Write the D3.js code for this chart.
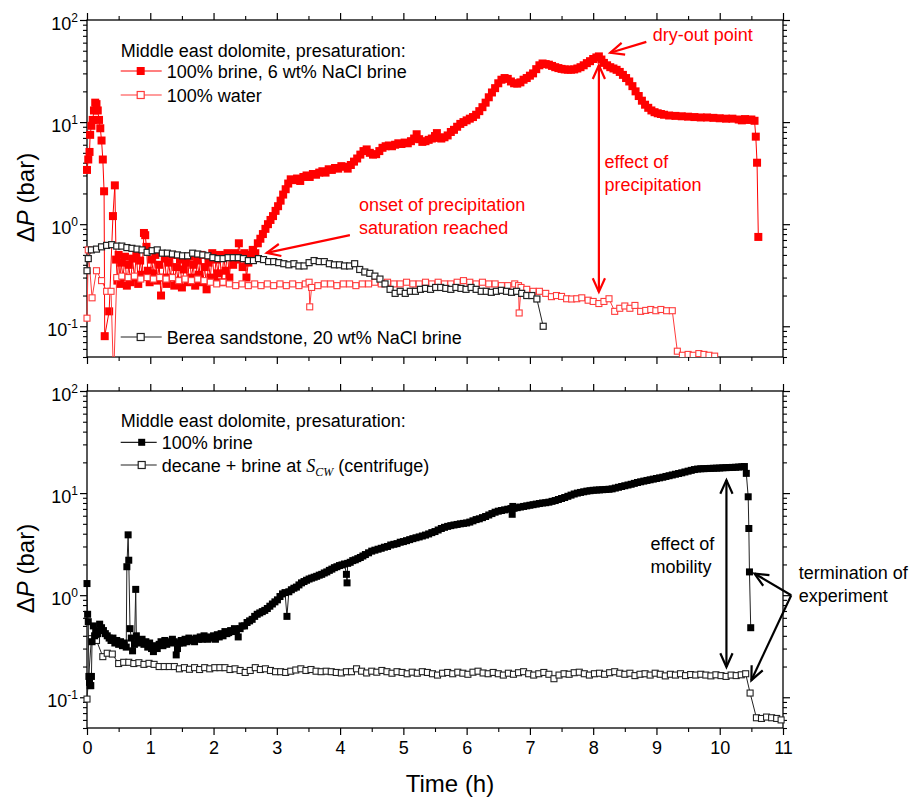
<!DOCTYPE html>
<html>
<head>
<meta charset="utf-8">
<script src="https://cdn.jsdelivr.net/npm/d3@7"></script>
<style>
  body { margin: 0; background: #fff; }
  text { font-family: "Liberation Sans", Arial, sans-serif; }
</style>
</head>
<body>
<div id="chart"></div>
<script>
// ---- data: [time (h), dP (bar)] ----
const xMajor = [0, 1, 2, 3, 4, 5, 6, 7, 8, 9, 10, 11];
const xMinor = [0.5, 1.5, 2.5, 3.5, 4.5, 5.5, 6.5, 7.5, 8.5, 9.5, 10.5];
const yMajor = [0.1, 1, 10, 100];
const yExp = ["-1", "0", "1", "2"];

// top panel: Middle east dolomite, 100% brine, 6 wt% NaCl brine
const brine6 = [[0.00,3.4],[0.02,4.3],[0.04,5.1],[0.05,7.5],[0.07,9.2],[0.09,10.5],[0.11,13],[0.13,15.5],[0.15,15],[0.17,13],[0.19,10.5],[0.21,8.7],[0.23,6.6],[0.25,4.3],[0.27,2.1],[0.28,0.08],[0.35,0.14],[0.41,1.2],[0.44,2.4],
  [0.46,0.45],[0.48,0.28],[0.50,0.5],[0.52,0.26],[0.54,0.42],[0.57,0.3],[0.60,0.48],[0.63,0.25],[0.66,0.4],[0.69,0.27],[0.72,0.46],[0.75,0.3],[0.78,0.52],[0.81,0.26],[0.84,0.44],[0.87,0.32],[0.90,0.82],[0.92,0.78],[0.94,0.6],[0.96,0.35],[0.99,0.27],
  [1.02,0.45],[1.05,0.33],[1.08,0.5],[1.11,0.28],[1.14,0.4],[1.17,0.2],[1.20,0.3],[1.23,0.46],[1.26,0.26],[1.29,0.42],[1.32,0.3],[1.35,0.5],[1.38,0.25],[1.41,0.38],[1.44,0.28],[1.47,0.45],[1.50,0.24],[1.53,0.36],[1.56,0.42],[1.59,0.27],
  [1.62,0.48],[1.65,0.3],[1.68,0.4],[1.71,0.25],[1.74,0.44],[1.77,0.32],[1.80,0.5],[1.83,0.27],[1.86,0.38],[1.89,0.23],[1.92,0.42],[1.95,0.3],[1.98,0.52],[2.01,0.28],[2.04,0.45],[2.07,0.33],[2.10,0.5],[2.13,0.27],[2.16,0.48],[2.19,0.35],
  [2.22,0.52],[2.25,0.3],[2.28,0.5],[2.31,0.4],[2.34,0.52],[2.37,0.45],[2.40,0.65],[2.43,0.5],[2.46,0.38],[2.49,0.52],[2.52,0.3],[2.55,0.42],
  [2.58,0.5],[2.62,0.56],[2.66,0.52],[2.70,0.65],[2.74,0.72],[2.78,0.8],[2.82,0.9],[2.86,1.0],[2.90,1.1],[2.94,1.2],[2.98,1.35],[3.02,1.5],[3.06,1.7],[3.10,1.95],[3.14,2.2],[3.18,2.5],[3.22,2.75],[3.27,2.7],[3.32,2.8],[3.37,2.65],
  [3.42,2.9],[3.47,3.0],[3.52,2.9],[3.57,3.1],[3.62,3.05],[3.67,3.2],[3.72,3.3],[3.77,3.2],[3.82,3.45],[3.87,3.4],[3.92,3.55],[3.97,3.5],[4.02,3.7],[4.07,3.65],[4.12,3.5],[4.17,3.8],[4.22,4.1],[4.27,4.4],[4.32,4.8],[4.37,5.2],
  [4.42,5.4],[4.47,5.0],[4.52,4.8],[4.57,4.85],[4.62,5.2],[4.67,5.6],[4.72,5.8],[4.77,5.9],[4.82,5.8],[4.87,6.0],[4.92,6.2],[4.97,6.1],[5.02,6.3],[5.07,6.2],[5.12,6.5],[5.17,6.9],[5.21,7.6],[5.25,6.8],[5.30,6.4],[5.35,6.5],
  [5.40,6.7],[5.45,6.9],[5.50,7.3],[5.53,7.8],[5.56,7.0],[5.60,6.9],[5.65,7.1],[5.70,7.4],[5.75,8.0],[5.80,8.4],[5.85,9.0],[5.90,9.6],[5.95,10.0],[6.00,10.4],[6.05,10.8],[6.10,11.2],[6.15,11.8],[6.20,12.8],[6.25,14],[6.30,15.5],
  [6.35,17.5],[6.40,19.5],[6.45,21.5],[6.50,24],[6.55,26],[6.60,27],[6.65,26.5],[6.70,25],[6.75,24],[6.80,23.8],[6.85,24.5],[6.90,26],[6.95,27],[7.00,28.5],[7.05,30],[7.10,33],[7.15,36],[7.20,37.5],[7.25,37],[7.30,36.5],
  [7.35,35.5],[7.40,34.5],[7.45,33.8],[7.50,33.2],[7.55,32.8],[7.60,32.6],[7.65,32.6],[7.70,32.8],[7.75,33.5],[7.80,34.5],[7.85,36],[7.90,37.8],[7.95,39.5],[8.00,41.5],[8.05,43],[8.09,44],[8.13,41],[8.17,38],[8.22,36],[8.27,34.5],
  [8.32,33.5],[8.37,32.5],[8.42,31],[8.47,29],[8.52,27],[8.57,25],[8.62,22.5],[8.67,20],[8.72,18],[8.77,16.2],[8.82,14.8],[8.87,13.8],[8.92,13.0],[8.97,12.5],[9.02,12.2],[9.07,12.0],[9.12,11.8],[9.20,11.6],[9.30,11.5],[9.40,11.4],
  [9.50,11.3],[9.60,11.2],[9.70,11.1],[9.80,11.1],[9.90,11.0],[10.00,10.9],[10.10,10.8],[10.20,10.8],[10.30,10.6],[10.35,10.4],[10.40,10.7],[10.45,10.5],[10.50,10.6],[10.55,10.3],[10.57,7.2],[10.59,4.0],[10.61,0.75]];

// top panel: Middle east dolomite, 100% water
const water = [[0.00,0.12],[0.02,0.56],[0.08,0.19],[0.15,0.35],[0.23,0.28],[0.31,0.22],[0.38,0.22],[0.42,0.03],[0.47,0.3],[0.55,0.31],[0.65,0.3],[0.75,0.31],[0.85,0.29],[0.95,0.3],[1.05,0.29],[1.15,0.3],[1.25,0.29],[1.35,0.3],[1.45,0.28],[1.55,0.29],
  [1.65,0.28],[1.75,0.29],[1.85,0.28],[1.95,0.27],[2.05,0.26],[2.15,0.27],[2.25,0.26],[2.35,0.25],[2.45,0.26],[2.55,0.25],[2.65,0.26],[2.75,0.25],[2.85,0.26],[2.95,0.25],[3.05,0.26],[3.15,0.25],[3.25,0.26],[3.35,0.25],[3.45,0.26],[3.51,0.27],
  [3.52,0.155],[3.55,0.24],[3.65,0.25],[3.75,0.26],[3.85,0.26],[3.95,0.25],[4.05,0.26],[4.15,0.26],[4.25,0.25],[4.35,0.26],[4.45,0.26],[4.55,0.27],[4.65,0.26],[4.75,0.27],[4.85,0.26],[4.95,0.26],[5.05,0.27],[5.15,0.26],[5.25,0.26],[5.35,0.27],
  [5.45,0.26],[5.55,0.27],[5.65,0.26],[5.75,0.26],[5.85,0.27],[5.95,0.28],[6.05,0.27],[6.15,0.26],[6.25,0.27],[6.35,0.26],[6.45,0.26],[6.55,0.25],[6.65,0.25],[6.76,0.26],[6.82,0.25],[6.83,0.135],[6.86,0.24],[6.95,0.23],[7.05,0.22],[7.15,0.22],
  [7.25,0.21],[7.34,0.195],[7.42,0.2],[7.50,0.196],[7.58,0.186],[7.66,0.185],[7.74,0.186],[7.82,0.19],[7.92,0.18],[8.00,0.175],[8.09,0.167],[8.17,0.175],[8.25,0.186],[8.34,0.14],[8.42,0.15],[8.50,0.158],[8.58,0.15],[8.66,0.16],[8.75,0.14],[8.83,0.143],
  [8.91,0.146],[8.99,0.142],[9.07,0.146],[9.16,0.142],[9.25,0.142],[9.33,0.057],[9.41,0.052],[9.50,0.053],[9.58,0.052],[9.67,0.054],[9.75,0.053],[9.83,0.052],[9.92,0.051]];

// top panel: Berea sandstone, 20 wt% NaCl brine
const berea = [[0.00,0.35],[0.02,0.46],[0.07,0.56],[0.15,0.57],[0.23,0.6],[0.31,0.62],[0.39,0.63],[0.47,0.61],[0.55,0.61],[0.63,0.59],[0.71,0.58],[0.79,0.57],[0.87,0.56],[0.95,0.53],[1.03,0.55],[1.11,0.56],[1.19,0.52],[1.27,0.52],[1.35,0.51],[1.43,0.5],
  [1.51,0.49],[1.59,0.49],[1.67,0.52],[1.75,0.51],[1.83,0.5],[1.91,0.49],[1.99,0.47],[2.07,0.46],[2.15,0.46],[2.23,0.47],[2.31,0.47],[2.39,0.47],[2.47,0.46],[2.55,0.44],[2.63,0.44],[2.71,0.46],[2.79,0.45],[2.87,0.43],[2.95,0.43],[3.03,0.42],
  [3.11,0.41],[3.19,0.40],[3.27,0.41],[3.35,0.39],[3.43,0.39],[3.51,0.42],[3.59,0.44],[3.67,0.43],[3.75,0.43],[3.83,0.41],[3.91,0.40],[3.99,0.40],[4.07,0.39],[4.15,0.39],[4.23,0.41],[4.31,0.36],[4.39,0.34],[4.47,0.33],[4.55,0.31],[4.63,0.29],
  [4.71,0.26],[4.79,0.23],[4.87,0.21],[4.95,0.22],[5.03,0.21],[5.11,0.22],[5.19,0.22],[5.27,0.23],[5.35,0.235],[5.43,0.23],[5.51,0.24],[5.59,0.24],[5.67,0.235],[5.75,0.23],[5.83,0.24],[5.91,0.235],[5.99,0.23],[6.07,0.24],[6.15,0.23],[6.23,0.22],
  [6.31,0.22],[6.39,0.215],[6.47,0.22],[6.55,0.225],[6.63,0.22],[6.71,0.215],[6.79,0.22],[6.87,0.21],[6.95,0.2],[7.03,0.2],[7.11,0.185],[7.21,0.10]];

// bottom panel: Middle east dolomite, 100% brine
const brine = [[0.00,1.3],[0.01,0.65],[0.02,0.55],[0.03,0.16],[0.04,0.14],[0.05,0.13],[0.06,0.13],[0.07,0.16],[0.08,0.35],[0.10,0.5],[0.12,0.4],[0.14,0.45],[0.17,0.42],[0.20,0.52],[0.23,0.48],[0.26,0.45],[0.29,0.42],[0.32,0.4],[0.35,0.38],[0.38,0.36],
  [0.41,0.38],[0.44,0.34],[0.47,0.36],[0.50,0.33],[0.53,0.35],[0.56,0.32],[0.59,0.34],[0.62,0.31],[0.63,1.9],[0.65,3.9],[0.66,2.2],[0.68,0.47],[0.70,0.38],[0.72,0.285],[0.75,0.33],[0.77,1.14],[0.78,0.4],[0.81,0.36],[0.84,0.34],[0.87,0.37],
  [0.90,0.33],[0.93,0.35],[0.96,0.31],[0.99,0.34],[1.02,0.3],[1.05,0.28],[1.08,0.32],[1.11,0.3],[1.14,0.33],[1.17,0.35],[1.20,0.32],[1.23,0.36],[1.26,0.33],[1.29,0.35],[1.32,0.34],[1.35,0.37],[1.38,0.35],[1.41,0.26],[1.43,0.3],[1.46,0.34],
  [1.49,0.36],[1.52,0.34],[1.55,0.37],[1.58,0.35],[1.61,0.38],[1.64,0.36],[1.67,0.37],[1.70,0.35],[1.73,0.38],[1.76,0.37],[1.79,0.39],[1.82,0.37],[1.85,0.4],[1.88,0.38],[1.91,0.37],[1.94,0.39],[1.97,0.38],[2.00,0.4],[2.03,0.37],[2.06,0.41],
  [2.09,0.39],[2.12,0.42],[2.15,0.4],[2.18,0.44],[2.21,0.42],[2.24,0.43],[2.27,0.45],[2.30,0.44],[2.33,0.47],[2.36,0.45],[2.39,0.39],[2.42,0.47],[2.45,0.5],[2.49,0.5],[2.53,0.54],[2.57,0.56],[2.61,0.58],[2.65,0.62],[2.69,0.65],[2.73,0.67],
  [2.77,0.69],[2.81,0.71],[2.85,0.74],[2.89,0.78],[2.93,0.82],[2.97,0.86],[3.01,0.9],[3.05,0.97],[3.09,1.03],[3.13,1.06],[3.16,0.62],[3.19,1.08],[3.23,1.13],[3.27,1.17],[3.31,1.2],[3.35,1.26],[3.39,1.32],[3.43,1.36],[3.47,1.4],[3.51,1.44],
  [3.55,1.47],[3.59,1.5],[3.63,1.53],[3.67,1.57],[3.71,1.6],[3.75,1.65],[3.79,1.69],[3.83,1.75],[3.87,1.8],[3.91,1.86],[3.95,1.9],[3.99,1.95],[4.03,1.98],[4.07,2.02],[4.10,1.6],[4.11,1.32],[4.12,2.05],[4.16,2.1],[4.20,2.18],[4.24,2.22],
  [4.28,2.28],[4.32,2.34],[4.36,2.42],[4.40,2.5],[4.45,2.6],[4.50,2.7],[4.55,2.76],[4.60,2.82],[4.65,2.88],[4.70,2.95],[4.75,3.0],[4.80,3.1],[4.85,3.15],[4.90,3.2],[4.95,3.3],[5.00,3.35],[5.05,3.42],[5.10,3.5],[5.15,3.58],[5.20,3.65],
  [5.25,3.72],[5.30,3.8],[5.35,3.88],[5.40,3.98],[5.45,4.1],[5.50,4.2],[5.55,4.35],[5.60,4.5],[5.65,4.62],[5.70,4.72],[5.75,4.8],[5.80,4.87],[5.85,4.93],[5.90,5.0],[5.95,5.05],[6.00,5.1],[6.05,5.2],[6.10,5.35],[6.15,5.5],[6.20,5.6],
  [6.25,5.75],[6.30,5.9],[6.35,6.1],[6.40,6.3],[6.45,6.5],[6.50,6.65],[6.55,6.75],[6.60,6.85],[6.65,6.95],[6.70,7.05],[6.72,6.2],[6.73,7.4],[6.75,7.1],[6.80,7.2],[6.85,7.3],[6.90,7.4],[6.95,7.5],[7.00,7.6],[7.05,7.7],[7.10,7.8],
  [7.15,7.9],[7.20,8.0],[7.25,8.05],[7.30,8.15],[7.35,8.3],[7.40,8.45],[7.45,8.65],[7.50,8.85],[7.55,9.05],[7.60,9.3],[7.65,9.55],[7.70,9.8],[7.75,10.0],[7.80,10.15],[7.85,10.3],[7.90,10.45],[7.95,10.55],[8.00,10.65],[8.05,10.7],[8.10,10.75],
  [8.15,10.8],[8.20,10.85],[8.25,10.9],[8.30,11.0],[8.35,11.2],[8.40,11.4],[8.45,11.6],[8.50,11.8],[8.55,12.0],[8.60,12.2],[8.65,12.45],[8.70,12.7],[8.75,12.9],[8.80,13.1],[8.85,13.3],[8.90,13.5],[8.95,13.7],[9.00,13.9],[9.05,14.1],[9.10,14.3],
  [9.15,14.55],[9.20,14.8],[9.25,15.05],[9.30,15.3],[9.35,15.55],[9.40,15.8],[9.45,16.1],[9.50,16.4],[9.55,16.7],[9.60,17.0],[9.65,17.2],[9.70,17.3],[9.75,17.35],[9.80,17.4],[9.85,17.45],[9.90,17.5],[9.95,17.55],[10.00,17.6],[10.05,17.7],[10.10,17.75],
  [10.15,17.8],[10.20,17.85],[10.25,17.9],[10.30,18.0],[10.35,18.1],[10.39,18.2],[10.42,15.6],[10.45,9.2],[10.46,4.5],[10.47,1.69],[10.49,0.48]];

// bottom panel: decane + brine at Scw (centrifuge)
const decane = [[0.00,0.096],[0.07,0.375],[0.15,0.36],[0.25,0.25],[0.32,0.27],[0.40,0.265],[0.50,0.214],[0.58,0.22],[0.66,0.22],[0.74,0.214],[0.82,0.218],[0.90,0.21],[0.98,0.215],[1.06,0.21],[1.14,0.2],[1.22,0.2],[1.30,0.2],[1.38,0.2],[1.46,0.19],[1.54,0.195],
  [1.62,0.188],[1.70,0.195],[1.78,0.187],[1.86,0.195],[1.94,0.19],[2.02,0.195],[2.10,0.195],[2.18,0.195],[2.26,0.187],[2.34,0.19],[2.42,0.183],[2.50,0.175],[2.58,0.183],[2.66,0.195],[2.74,0.187],[2.82,0.19],[2.90,0.183],[2.98,0.178],[3.06,0.178],[3.14,0.175],
  [3.22,0.18],[3.30,0.185],[3.38,0.19],[3.46,0.183],[3.54,0.187],[3.62,0.18],[3.70,0.178],[3.78,0.18],[3.86,0.178],[3.94,0.175],[4.02,0.173],[4.10,0.178],[4.18,0.178],[4.26,0.19],[4.34,0.18],[4.42,0.173],[4.50,0.18],[4.58,0.176],[4.66,0.183],[4.74,0.178],
  [4.82,0.172],[4.90,0.178],[4.98,0.175],[5.06,0.17],[5.14,0.176],[5.22,0.172],[5.30,0.178],[5.38,0.175],[5.46,0.17],[5.54,0.165],[5.62,0.172],[5.70,0.175],[5.78,0.17],[5.86,0.176],[5.94,0.172],[6.02,0.168],[6.10,0.176],[6.18,0.18],[6.26,0.173],[6.34,0.17],
  [6.42,0.175],[6.50,0.17],[6.58,0.165],[6.66,0.172],[6.74,0.168],[6.82,0.174],[6.90,0.178],[6.98,0.17],[7.06,0.165],[7.14,0.17],[7.22,0.175],[7.30,0.168],[7.38,0.152],[7.46,0.165],[7.54,0.17],[7.62,0.168],[7.70,0.174],[7.78,0.176],[7.86,0.17],[7.94,0.165],
  [8.02,0.17],[8.10,0.172],[8.18,0.168],[8.26,0.174],[8.34,0.178],[8.42,0.172],[8.50,0.168],[8.58,0.172],[8.66,0.163],[8.74,0.168],[8.82,0.17],[8.90,0.165],[8.98,0.172],[9.06,0.168],[9.14,0.162],[9.22,0.168],[9.30,0.165],[9.38,0.17],[9.46,0.163],[9.54,0.167],
  [9.62,0.165],[9.70,0.168],[9.78,0.165],[9.86,0.162],[9.94,0.166],[10.02,0.163],[10.10,0.16],[10.18,0.165],[10.26,0.163],[10.34,0.166],[10.41,0.17],[10.48,0.11],[10.58,0.063],[10.66,0.062],[10.74,0.064],[10.82,0.063],[10.90,0.062],[10.97,0.06]];

// ---- layout ----
const width = 914;
const height = 800;
const red = "#ff0000";
const waterRed = "#ff3b3b";

const svg = d3.select("#chart")
  .append("svg")
  .attr("width", width)
  .attr("height", height);

const x = d3.scaleLinear().domain([0, 11]).range([87, 783]);
const yTop = d3.scaleLog().domain([0.05, 100]).range([357, 20]);
const yBot = d3.scaleLog().domain([0.05, 100]).range([728, 391]);

// draws frame, ticks and y labels of one panel
function drawAxes(y, showX) {
  const g = svg.append("g");
  const [y0, y1] = y.range();
  const [x0, x1] = x.range();
  const yMinor = y.ticks().filter(v => !yMajor.includes(v));

  const axes = [
    [d3.axisBottom(x), xMajor, xMinor, `translate(0,${y0})`, showX],
    [d3.axisTop(x), xMajor, xMinor, `translate(0,${y1})`, false],
    [d3.axisLeft(y), yMajor, yMinor, `translate(${x0},0)`, false],
    [d3.axisRight(y), yMajor, yMinor, `translate(${x1},0)`, false]
  ];
  axes.forEach(([ax, major, minor, tr, labels]) => {
    const gm = g.append("g").attr("transform", tr)
      .call(ax.tickValues(major).tickSize(7).tickSizeOuter(0).tickPadding(6)
        .tickFormat(labels ? d3.format("d") : ""));
    gm.select(".domain").remove();
    gm.selectAll("line").attr("stroke-width", 1.2);
    gm.selectAll("text").attr("font-size", 18).attr("font-family", "Liberation Sans, Arial, sans-serif");
    const gn = g.append("g").attr("transform", tr)
      .call(ax.tickValues(minor).tickSize(4).tickFormat(""));
    gn.select(".domain").remove();
    gn.selectAll("line").attr("stroke-width", 1.1);
  });

  g.append("rect")
    .attr("x", x0).attr("y", y1)
    .attr("width", x1 - x0).attr("height", y0 - y1)
    .attr("fill", "none").attr("stroke", "#000").attr("stroke-width", 1.3);

  // 10^n labels
  g.selectAll(".ylab").data(yMajor).join("text")
    .attr("class", "ylab")
    .attr("x", 78).attr("y", d => y(d) + 10)
    .attr("text-anchor", "end").attr("font-size", 18)
    .each(function(d, i) {
      const t = d3.select(this);
      t.append("tspan").text("10");
      t.append("tspan").attr("dy", -8).attr("font-size", 12).text(yExp[i]);
    });

  // ΔP (bar)
  const mid = (y0 + y1) / 2 + 9;
  const lab = g.append("text")
    .attr("transform", `translate(34,${mid}) rotate(-90)`)
    .attr("text-anchor", "middle").attr("font-size", 24);
  lab.append("tspan").text("Δ");
  lab.append("tspan").attr("font-style", "italic").text("P");
  lab.append("tspan").text(" (bar)");
}

function clipFor(id, y) {
  const [y0, y1] = y.range();
  svg.append("clipPath").attr("id", id)
    .append("rect").attr("x", 78).attr("y", y1).attr("width", 712).attr("height", y0 - y1);
  return svg.append("g").attr("clip-path", `url(#${id})`);
}

function drawSeries(g, data, y, o) {
  const line = d3.line().x(d => x(d[0])).y(d => y(d[1]));
  g.append("path").datum(data)
    .attr("d", line)
    .attr("fill", "none")
    .attr("stroke", o.line)
    .attr("stroke-width", 1);
  g.append("g").selectAll("rect").data(data).join("rect")
    .attr("x", d => x(d[0]) - o.size / 2)
    .attr("y", d => y(d[1]) - o.size / 2)
    .attr("width", o.size).attr("height", o.size)
    .attr("fill", o.fill)
    .attr("stroke", o.stroke)
    .attr("stroke-width", o.sw);
}

function arrowHead(g, xt, yt, xf, yf, color) {
  const a = Math.atan2(yt - yf, xt - xf);
  const L = 15, w = 0.42;
  const p1 = [xt - L * Math.cos(a - w), yt - L * Math.sin(a - w)];
  const p2 = [xt - L * Math.cos(a + w), yt - L * Math.sin(a + w)];
  g.append("path")
    .attr("d", `M${p1[0]},${p1[1]}L${xt},${yt}L${p2[0]},${p2[1]}`)
    .attr("fill", "none").attr("stroke", color).attr("stroke-width", 2.2)
    .attr("stroke-linejoin", "miter");
}

function arrow(g, x1, y1, x2, y2, color, both) {
  g.append("line").attr("x1", x1).attr("y1", y1).attr("x2", x2).attr("y2", y2)
    .attr("stroke", color).attr("stroke-width", 2.2);
  arrowHead(g, x2, y2, x1, y1, color);
  if (both) arrowHead(g, x1, y1, x2, y2, color);
}

function note(g, xx, yy, lines, color) {
  lines.forEach((s, i) => {
    g.append("text").attr("x", xx).attr("y", yy + i * 23)
      .attr("font-size", 18).attr("fill", color).text(s);
  });
}

function legendRow(g, yy, x0, x1, xm, xt, o, label) {
  g.append("line").attr("x1", x0).attr("x2", x1).attr("y1", yy).attr("y2", yy)
    .attr("stroke", o.line).attr("stroke-width", 1.2);
  g.append("rect").attr("x", xm - o.size / 2).attr("y", yy - o.size / 2)
    .attr("width", o.size).attr("height", o.size)
    .attr("fill", o.fill).attr("stroke", o.stroke).attr("stroke-width", o.sw);
  return g.append("text").attr("x", xt).attr("y", yy + 6.5).attr("font-size", 18).text(label);
}

// ---- top panel ----
drawAxes(yTop, false);
const topG = clipFor("clipTop", yTop);
drawSeries(topG, brine6, yTop, { line: red, fill: red, stroke: "none", sw: 0, size: 8 });
drawSeries(topG, water, yTop, { line: waterRed, fill: "#fff", stroke: waterRed, sw: 1.1, size: 6 });
drawSeries(topG, berea, yTop, { line: "#222", fill: "#fff", stroke: "#222", sw: 1.2, size: 6 });

const ann = svg.append("g");
arrow(ann, x(8.09), yTop(0.217), x(8.09), yTop(36), red, true);
arrow(ann, x(8.84), yTop(61), x(8.27), yTop(47.8), red, false);
arrow(ann, x(4.155), yTop(0.78), x(2.84), yTop(0.524), red, false);
note(ann, x(8.94), yTop(62), ["dry-out point"], red);
note(ann, x(8.18), yTop(3.54), ["effect of", "precipitation"], red);
note(ann, x(4.30), yTop(1.36), ["onset of precipitation", "saturation reached"], red);

// legend (top)
const lt = svg.append("g");
lt.append("text").attr("x", 120.7).attr("y", 56.5).attr("font-size", 18).text("Middle east dolomite, presaturation:");
legendRow(lt, 71, 120.7, 161.7, 140.7, 166.7, { line: red, fill: red, stroke: "none", sw: 0, size: 8 }, "100% brine, 6 wt% NaCl brine");
legendRow(lt, 95, 120.7, 161.7, 140.7, 166.7, { line: waterRed, fill: "#fff", stroke: waterRed, sw: 1.2, size: 7 }, "100% water");
legendRow(lt, 337, 120.7, 161.7, 140.7, 166.7, { line: "#222", fill: "#fff", stroke: "#222", sw: 1.2, size: 7 }, "Berea sandstone, 20 wt% NaCl brine");

// ---- bottom panel ----
drawAxes(yBot, true);
const botG = clipFor("clipBot", yBot);
drawSeries(botG, decane, yBot, { line: "#222", fill: "#fff", stroke: "#222", sw: 1.1, size: 6 });
drawSeries(botG, brine, yBot, { line: "#222", fill: "#000", stroke: "none", sw: 0, size: 7 });

arrow(ann, x(10.106), yBot(0.198), x(10.106), yBot(13.4), "#000", true);
arrow(ann, x(11.13), yBot(1.0), x(10.55), yBot(1.63), "#000", false);
arrow(ann, x(11.13), yBot(1.0), x(10.5), yBot(0.147), "#000", false);
note(ann, x(8.905), yBot(2.76), ["effect of", "mobility"], "#000");
note(ann, x(11.25), yBot(1.44), ["termination of", "experiment"], "#000");

const lb = svg.append("g");
lb.append("text").attr("x", 120.7).attr("y", 426.5).attr("font-size", 18).text("Middle east dolomite, presaturation:");
legendRow(lb, 442.3, 120.7, 156.7, 141.7, 161.7, { line: "#222", fill: "#000", stroke: "none", sw: 0, size: 7 }, "100% brine");
const t3 = legendRow(lb, 465, 120.7, 156.7, 141.7, 161.7, { line: "#222", fill: "#fff", stroke: "#222", sw: 1.2, size: 7 }, "decane + brine at ");
t3.append("tspan").attr("font-family", "Liberation Serif, Times New Roman, serif").attr("font-style", "italic").text("S");
t3.append("tspan").attr("font-family", "Liberation Serif, Times New Roman, serif").attr("font-style", "italic")
  .attr("font-size", 12).attr("dy", 4).text("CW");
t3.append("tspan").attr("dy", -4).text(" (centrifuge)");

// x title
svg.append("text")
  .attr("x", 450).attr("y", 792)
  .attr("text-anchor", "middle").attr("font-size", 24)
  .text("Time (h)");
</script>
</body>
</html>
